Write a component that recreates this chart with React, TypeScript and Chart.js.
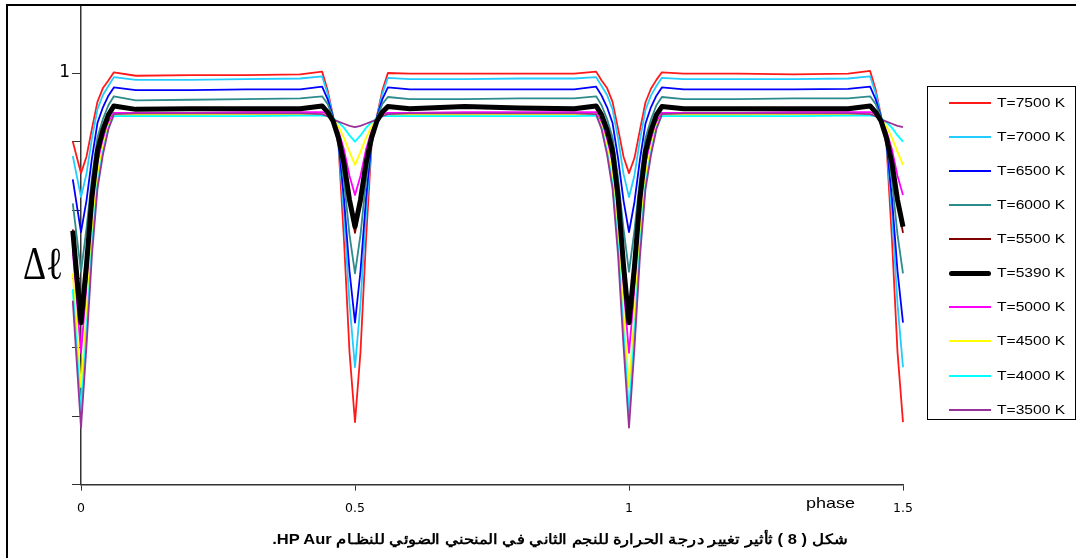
import React, { useEffect, useRef } from "react";
import { Chart, registerables } from "chart.js";
Chart.register(...registerables);

// ---------- DATA ----------
const phases = [
  -0.015, 0, 0.01, 0.02, 0.03, 0.04, 0.05, 0.06,
  0.1, 0.2, 0.3, 0.4,
  0.44, 0.45, 0.46, 0.47, 0.48, 0.49, 0.5, 0.51, 0.52, 0.53, 0.54, 0.55, 0.56,
  0.6, 0.7, 0.8, 0.9,
  0.94, 0.95, 0.96, 0.97, 0.98, 0.99, 1.0, 1.01, 1.02, 1.03, 1.04, 1.05, 1.06,
  1.1, 1.2, 1.3, 1.4,
  1.44, 1.45, 1.46, 1.47, 1.48, 1.49, 1.5, 1.515,
];

const t7500 = [
  0.900, 0.854, 0.878, 0.919, 0.958, 0.978, 0.989, 1.001,
  0.996, 0.997, 0.997, 0.998,
  1.002, 0.975, 0.937, 0.893, 0.755, 0.593, 0.491, 0.593, 0.755, 0.893, 0.937, 0.975, 1.000,
  0.999, 0.999, 0.999, 0.999,
  1.002, 0.989, 0.978, 0.958, 0.919, 0.878, 0.854, 0.876, 0.917, 0.957, 0.977, 0.990, 1.001,
  0.999, 0.999, 0.998, 0.999,
  1.003, 0.976, 0.937, 0.893, 0.755, 0.593, 0.491, 0.700,
];
const t7000 = [
  0.879, 0.819, 0.853, 0.905, 0.947, 0.968, 0.981, 0.994,
  0.990, 0.990, 0.991, 0.992,
  0.995, 0.970, 0.936, 0.895, 0.793, 0.663, 0.571, 0.663, 0.793, 0.895, 0.936, 0.970, 0.993,
  0.991, 0.991, 0.992, 0.992,
  0.994, 0.981, 0.968, 0.947, 0.905, 0.853, 0.819, 0.851, 0.903, 0.946, 0.967, 0.981, 0.993,
  0.991, 0.991, 0.991, 0.992,
  0.995, 0.971, 0.936, 0.895, 0.793, 0.663, 0.571, 0.750,
];
const t6500 = [
  0.845, 0.768, 0.814, 0.876, 0.927, 0.950, 0.967, 0.979,
  0.975, 0.975, 0.976, 0.976,
  0.980, 0.962, 0.936, 0.898, 0.816, 0.711, 0.636, 0.711, 0.816, 0.898, 0.936, 0.962, 0.979,
  0.976, 0.976, 0.976, 0.976,
  0.980, 0.967, 0.950, 0.927, 0.876, 0.814, 0.768, 0.812, 0.874, 0.926, 0.950, 0.967, 0.979,
  0.976, 0.976, 0.976, 0.977,
  0.980, 0.962, 0.936, 0.898, 0.816, 0.711, 0.636, 0.785,
];
const t6000 = [
  0.810, 0.710, 0.773, 0.848, 0.906, 0.933, 0.953, 0.966,
  0.960, 0.961, 0.962, 0.963,
  0.966, 0.955, 0.935, 0.903, 0.842, 0.764, 0.708, 0.764, 0.842, 0.903, 0.935, 0.955, 0.965,
  0.962, 0.962, 0.963, 0.963,
  0.966, 0.953, 0.933, 0.906, 0.848, 0.773, 0.710, 0.771, 0.846, 0.905, 0.932, 0.953, 0.965,
  0.962, 0.962, 0.963, 0.963,
  0.966, 0.955, 0.935, 0.903, 0.842, 0.764, 0.708, 0.825,
];
const t5500 = [
  0.772, 0.638, 0.722, 0.821, 0.887, 0.918, 0.940, 0.953,
  0.947, 0.947, 0.947, 0.947,
  0.953, 0.944, 0.930, 0.904, 0.866, 0.811, 0.767, 0.811, 0.866, 0.904, 0.930, 0.944, 0.952,
  0.947, 0.950, 0.948, 0.947,
  0.953, 0.940, 0.918, 0.887, 0.821, 0.722, 0.638, 0.720, 0.819, 0.886, 0.917, 0.940, 0.952,
  0.947, 0.947, 0.947, 0.947,
  0.953, 0.944, 0.930, 0.904, 0.866, 0.811, 0.767, 0.855,
];
const t5390 = [
  0.770, 0.636, 0.720, 0.820, 0.886, 0.917, 0.939, 0.952,
  0.947, 0.948, 0.948, 0.948,
  0.952, 0.943, 0.930, 0.905, 0.868, 0.815, 0.776, 0.815, 0.868, 0.905, 0.930, 0.943, 0.951,
  0.948, 0.951, 0.949, 0.948,
  0.952, 0.939, 0.917, 0.886, 0.820, 0.720, 0.636, 0.718, 0.818, 0.885, 0.916, 0.939, 0.951,
  0.948, 0.948, 0.948, 0.948,
  0.952, 0.943, 0.930, 0.905, 0.868, 0.815, 0.776, 0.857,
];
const t5000 = [
  0.741, 0.592, 0.687, 0.795, 0.869, 0.904, 0.928, 0.942,
  0.942, 0.942, 0.943, 0.943,
  0.943, 0.940, 0.933, 0.915, 0.888, 0.850, 0.822, 0.850, 0.888, 0.915, 0.933, 0.940, 0.942,
  0.942, 0.943, 0.943, 0.943,
  0.943, 0.928, 0.904, 0.869, 0.795, 0.687, 0.592, 0.685, 0.793, 0.868, 0.903, 0.928, 0.942,
  0.942, 0.942, 0.943, 0.943,
  0.943, 0.940, 0.933, 0.915, 0.888, 0.850, 0.822, 0.878,
];
const t4500 = [
  0.708, 0.542, 0.649, 0.768, 0.852, 0.891, 0.923, 0.939,
  0.939, 0.939, 0.940, 0.940,
  0.940, 0.938, 0.933, 0.922, 0.905, 0.885, 0.866, 0.885, 0.905, 0.922, 0.933, 0.938, 0.939,
  0.939, 0.939, 0.940, 0.940,
  0.940, 0.923, 0.891, 0.852, 0.768, 0.649, 0.542, 0.647, 0.766, 0.851, 0.890, 0.923, 0.939,
  0.939, 0.939, 0.940, 0.940,
  0.940, 0.938, 0.933, 0.922, 0.905, 0.885, 0.866, 0.900,
];
const t4000 = [
  0.685, 0.507, 0.623, 0.748, 0.838, 0.885, 0.920, 0.937,
  0.937, 0.937, 0.937, 0.938,
  0.938, 0.937, 0.934, 0.928, 0.920, 0.909, 0.900, 0.909, 0.920, 0.928, 0.934, 0.937, 0.937,
  0.937, 0.937, 0.937, 0.937,
  0.938, 0.920, 0.885, 0.838, 0.748, 0.623, 0.507, 0.621, 0.746, 0.837, 0.884, 0.920, 0.937,
  0.937, 0.937, 0.937, 0.938,
  0.938, 0.937, 0.934, 0.928, 0.920, 0.909, 0.900, 0.918,
];
const t3500 = [
  0.668, 0.483, 0.602, 0.735, 0.831, 0.881, 0.918, 0.940,
  0.941, 0.941, 0.941, 0.941,
  0.940, 0.937, 0.932, 0.929, 0.926, 0.923, 0.921, 0.923, 0.926, 0.929, 0.932, 0.937, 0.940,
  0.941, 0.941, 0.941, 0.941,
  0.940, 0.918, 0.881, 0.831, 0.735, 0.602, 0.483, 0.600, 0.733, 0.830, 0.880, 0.918, 0.940,
  0.941, 0.941, 0.941, 0.941,
  0.940, 0.937, 0.932, 0.929, 0.926, 0.923, 0.921, 0.927,
];

const seriesValues = [t7500, t7000, t6500, t6000, t5500, t5390, t5000, t4500, t4000, t3500];
const seriesLabels = [
  "T=7500 K", "T=7000 K", "T=6500 K", "T=6000 K", "T=5500 K",
  "T=5390 K", "T=5000 K", "T=4500 K", "T=4000 K", "T=3500 K",
];
const seriesColors = [
  "#ff1a1a", "#22ccff", "#0000ff", "#2e8b8b", "#800000",
  "#000000", "#ff00ff", "#ffff00", "#00ffff", "#993399",
];
const seriesWidths = [1.8, 1.8, 1.8, 1.8, 1.8, 5, 1.8, 1.8, 1.8, 1.8];
const seriesOrder = [9, 8, 7, 6, 5, 0, 4, 3, 2, 1];

const xTickValues = [0, 0.5, 1, 1.5];
const xTickLabels = ["0", "0.5", "1", "1.5"];
const yTickValues = [0.4, 0.5, 0.6, 0.7, 0.8, 0.9, 1.0, 1.1];
const yTickLabels = ["", "", "", "", "", "", "1", ""];

const xTitle = "phase";
const yTitle = "Δℓ";
const caption = "شكل ( 8 ) ثأثير تغيير درجة الحرارة للنجم الثاني في المنحني الضوئي للنظـام HP Aur.";

// ---------- COMPONENT ----------
export default function App() {
  const canvasRef = useRef<HTMLCanvasElement | null>(null);

  useEffect(() => {
    if (!canvasRef.current) return;
    const chart = new Chart(canvasRef.current, {
      type: "line",
      data: {
        datasets: seriesValues.map((vals, i) => ({
          label: seriesLabels[i],
          data: phases.map((p, j) => ({ x: p, y: vals[j] })),
          borderColor: seriesColors[i],
          backgroundColor: seriesColors[i],
          borderWidth: seriesWidths[i],
          pointRadius: 0,
          fill: false,
          tension: 0,
          clip: false as any,
          order: seriesOrder[i],
          borderJoinStyle: "round" as const,
        })),
      },
      options: {
        responsive: false,
        animation: false,
        events: [],
        layout: { padding: { left: 0, top: 4.4, right: 173, bottom: 0 } },
        plugins: { legend: { display: false }, tooltip: { enabled: false } },
        scales: {
          x: {
            type: "linear",
            min: 0,
            max: 1.5,
            afterBuildTicks: (s: any) => {
              s.ticks = xTickValues.map((v) => ({ value: v }));
            },
            afterFit: (s: any) => {
              s.height = 73.4;
              s.paddingLeft = 0;
              s.paddingRight = 0;
            },
            ticks: {
              autoSkip: false,
              maxRotation: 0,
              padding: 11,
              color: "#000",
              font: { family: "'DejaVu Sans', Arial, sans-serif", size: 12.5 },
              callback: (v: any) => {
                const idx = xTickValues.findIndex((t) => Math.abs(t - Number(v)) < 1e-6);
                return idx >= 0 ? xTickLabels[idx] : "";
              },
            },
            grid: { drawOnChartArea: false, drawTicks: true, tickLength: 6, color: "#333", lineWidth: 1 },
            border: { display: true, color: "#333", width: 1.5 },
          },
          y: {
            type: "linear",
            min: 0.4,
            max: 1.1,
            afterBuildTicks: (s: any) => {
              s.ticks = yTickValues.map((v) => ({ value: v }));
            },
            afterFit: (s: any) => {
              s.width = 81;
              s.paddingTop = 0;
              s.paddingBottom = 0;
            },
            ticks: {
              autoSkip: false,
              padding: 2,
              color: "#000",
              font: { family: "'DejaVu Sans', Arial, sans-serif", size: 17 },
              callback: (v: any) => {
                const idx = yTickValues.findIndex((t) => Math.abs(t - Number(v)) < 1e-6);
                return idx >= 0 ? yTickLabels[idx] : "";
              },
            },
            grid: { drawOnChartArea: false, drawTicks: true, tickLength: 9, color: "#333", lineWidth: 1 },
            border: { display: true, color: "#333", width: 1.5 },
          },
        },
      } as any,
    });
    return () => chart.destroy();
  }, []);

  const legendTop = 86;
  const rowStart = 102.7;
  const rowStep = 34.1;

  return (
    <div
      style={{
        position: "absolute",
        left: 0,
        top: 0,
        width: 1076,
        height: 558,
        background: "#fff",
        overflow: "hidden",
        fontFamily: "Arial, 'Liberation Sans', sans-serif",
      }}
    >
      <canvas
        ref={canvasRef}
        width={1076}
        height={558}
        style={{ position: "absolute", left: 0, top: 0, width: 1076, height: 558 }}
      />
      {/* outer frame (top and left edges) */}
      <div
        style={{
          position: "absolute",
          left: 6,
          top: 4,
          width: 1076,
          height: 560,
          borderTop: "2px solid #000",
          borderLeft: "2px solid #000",
          boxSizing: "border-box",
        }}
      />
      {/* y title */}
      <div
        style={{
          position: "absolute",
          left: 23,
          top: 241,
          fontFamily: "'Liberation Serif', 'Times New Roman', serif",
          fontSize: 46,
          lineHeight: 1,
          whiteSpace: "nowrap",
          color: "#000",
        }}
      >
        <span style={{ display: "inline-block", transform: "scaleX(0.78)", transformOrigin: "left" }}>{yTitle}</span>
      </div>
      {/* x title */}
      <div
        style={{
          position: "absolute",
          left: 806,
          top: 494,
          fontSize: 15,
          lineHeight: "17px",
          whiteSpace: "nowrap",
          color: "#000",
          transform: "scaleX(1.2)",
          transformOrigin: "left",
        }}
      >
        {xTitle}
      </div>
      {/* legend */}
      <div
        style={{
          position: "absolute",
          left: 927,
          top: legendTop,
          width: 149,
          height: 334,
          border: "1px solid #000",
          boxSizing: "border-box",
          background: "#fff",
        }}
      />
      {seriesLabels.map((lab, i) => {
        const cy = rowStart + rowStep * i;
        const w = i === 5 ? 5 : 2;
        return (
          <React.Fragment key={lab}>
            <div
              style={{
                position: "absolute",
                left: 949,
                top: cy - w / 2,
                width: 42,
                height: w,
                background: seriesColors[i],
                borderRadius: i === 5 ? 2.5 : 0,
              }}
            />
            <div
              style={{
                position: "absolute",
                left: 997,
                top: cy - 8,
                fontSize: 13,
                lineHeight: "16px",
                whiteSpace: "nowrap",
                color: "#000",
                transform: "scaleX(1.2)",
                transformOrigin: "left",
              }}
            >
              {lab}
            </div>
          </React.Fragment>
        );
      })}
      {/* caption */}
      <div
        style={{
          position: "absolute",
          right: 1076 - 848,
          top: 530,
          transform: "scaleX(1.18)",
          transformOrigin: "right",
        }}
      >
        <div
          dir="rtl"
          style={{
            fontSize: 14,
            fontWeight: "bold",
            lineHeight: "19px",
            whiteSpace: "nowrap",
            color: "#000",
          }}
        >
          {caption}
        </div>
      </div>
    </div>
  );
}
